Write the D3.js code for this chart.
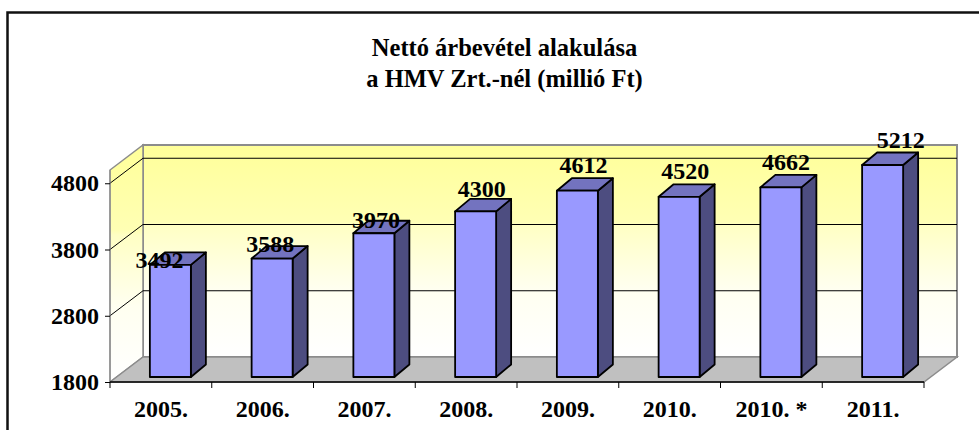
<!DOCTYPE html>
<html>
<head>
<meta charset="utf-8">
<script src="https://cdn.jsdelivr.net/npm/d3@7"></script>
<style>
  html, body { margin: 0; padding: 0; background: #fff; overflow: hidden; }
  svg { display: block; }
  text { font-family: "Liberation Serif", serif; font-weight: bold; fill: #000; }
</style>
</head>
<body>
<svg id="chart" width="979" height="430"></svg>
<script>
const titleLines = ['Nettó árbevétel alakulása', 'a HMV Zrt.-nél (millió Ft)'];
const years = ['2005.', '2006.', '2007.', '2008.', '2009.', '2010.', '2010. *', '2011.'];
const revenue = [3492, 3588, 3970, 4300, 4612, 4520, 4662, 5212];
const yTicks = [1800, 2800, 3800, 4800];

const svg = d3.select('#chart');

// Front plane of the 3D box
const x = d3.scaleBand().domain(years).range([110, 924]).paddingInner(0.597).paddingOuter(0.2985);
const xOuter = d3.scaleBand().domain(years).range([110, 924]);
// Axis tops out at 5000, the last bar is cut off there
const y = d3.scaleLinear().domain([1800, 5000]).range([382, 170]).clamp(true);

const depth = { x: 33, y: -25 };
const barDepth = { x: 15, y: -12.5 };
const barShift = { x: 9.5, y: -5 };

// hand moved data labels, as in the original sheet
const labelNudge = [[-11, 3], [-2, -7], [2, -5], [6, -14], [6, -18], [6, -18], [5, -17], [18, -17]];

const defs = svg.append('defs');
const grad = defs.append('linearGradient').attr('id', 'wall').attr('x1', 0).attr('y1', 0).attr('x2', 0).attr('y2', 1);
grad.append('stop').attr('offset', '0%').attr('stop-color', '#ffff99');
grad.append('stop').attr('offset', '36%').attr('stop-color', '#ffffb4');
grad.append('stop').attr('offset', '38%').attr('stop-color', '#ffffc4');
grad.append('stop').attr('offset', '68%').attr('stop-color', '#fffff0');
grad.append('stop').attr('offset', '100%').attr('stop-color', '#ffffff');

// Outer frame
svg.append('path')
  .attr('d', 'M7.5,436V12.5H985')
  .attr('fill', 'none').attr('stroke', '#111').attr('stroke-width', 2.5);

const x0 = 110, x1 = 924, yBottom = y(1800), yTop = y(5000);
const pts = (a) => a.map((p) => p.join(',')).join(' ');

// Back wall, side wall, floor
svg.append('polygon')
  .attr('points', pts([[x0 + depth.x, yTop + depth.y], [x1 + depth.x, yTop + depth.y], [x1 + depth.x, yBottom + depth.y], [x0 + depth.x, yBottom + depth.y]]))
  .attr('fill', 'url(#wall)').attr('stroke', '#8c8c8c').attr('stroke-width', 2);
svg.append('polygon')
  .attr('points', pts([[x0, yTop], [x0 + depth.x, yTop + depth.y], [x0 + depth.x, yBottom + depth.y], [x0, yBottom]]))
  .attr('fill', 'url(#wall)').attr('stroke', '#8c8c8c').attr('stroke-width', 1.5);
svg.append('polygon')
  .attr('points', pts([[x0, yBottom], [x0 + depth.x, yBottom + depth.y], [x1 + depth.x, yBottom + depth.y], [x1, yBottom]]))
  .attr('fill', '#c0c0c0').attr('stroke', '#8c8c8c').attr('stroke-width', 1.5);

// Gridlines run along the side wall and the back wall
svg.append('g').selectAll('polyline')
  .data(yTicks.slice(1))
  .join('polyline')
  .attr('points', (d) => pts([[x0, y(d)], [x0 + depth.x, y(d) + depth.y], [x1 + depth.x, y(d) + depth.y]]))
  .attr('fill', 'none').attr('stroke', '#000').attr('stroke-width', 1);

// Axis lines
const axisY = svg.append('g').attr('transform', `translate(${x0},0)`)
  .call(d3.axisLeft(y).tickValues(yTicks).tickFormat(d3.format('d')).tickSize(5).tickPadding(6));
const axisX = svg.append('g').attr('transform', `translate(0,${yBottom})`)
  .call(d3.axisBottom(xOuter).tickSize(0).tickPadding(18));
axisY.select('.domain').attr('stroke', '#8c8c8c').attr('stroke-width', 1).attr('d', `M0,${yTop}V${yBottom}`);
axisX.select('.domain').attr('stroke', '#000').attr('stroke-width', 1.5).attr('d', `M${x0},0H${x1}`);
axisY.attr('font-family', null).attr('font-size', null);
axisX.attr('font-family', null).attr('font-size', null);
axisY.selectAll('text').style('font-size', '24px');
axisX.selectAll('text').style('font-size', '24px');
axisX.selectAll('.tick line').remove();
svg.append('g').selectAll('line')
  .data(d3.range(years.length + 1))
  .join('line')
  .attr('x1', (i) => x0 + i * xOuter.step()).attr('x2', (i) => x0 + i * xOuter.step())
  .attr('y1', yBottom).attr('y2', yBottom + 6)
  .attr('stroke', '#000');

// Bars, each one front + side + top
const bars = svg.append('g').selectAll('g')
  .data(revenue)
  .join('g')
  .attr('stroke', '#000').attr('stroke-width', 1.8).attr('stroke-linejoin', 'round');

const barLeft = (d, i) => x(years[i]) + barShift.x;
const barRight = (d, i) => barLeft(d, i) + x.bandwidth();
const barTop = (d) => y(d) + barShift.y;
const barBase = yBottom + barShift.y;

bars.append('polygon').attr('fill', '#4d4d80')
  .attr('points', (d, i) => pts([[barRight(d, i), barTop(d)], [barRight(d, i) + barDepth.x, barTop(d) + barDepth.y], [barRight(d, i) + barDepth.x, barBase + barDepth.y], [barRight(d, i), barBase]]));
bars.append('polygon').attr('fill', '#7373bf')
  .attr('points', (d, i) => pts([[barLeft(d, i), barTop(d)], [barLeft(d, i) + barDepth.x, barTop(d) + barDepth.y], [barRight(d, i) + barDepth.x, barTop(d) + barDepth.y], [barRight(d, i), barTop(d)]]));
bars.append('rect').attr('fill', '#9999ff')
  .attr('x', barLeft).attr('y', barTop).attr('width', x.bandwidth()).attr('height', (d) => barBase - barTop(d));

// Data labels
svg.append('g').selectAll('text')
  .data(revenue)
  .join('text')
  .attr('x', (d, i) => barLeft(d, i) + x.bandwidth() / 2 + labelNudge[i][0])
  .attr('y', (d, i) => barTop(d) + labelNudge[i][1])
  .attr('text-anchor', 'middle')
  .style('font-size', '24px')
  .text((d) => d);

// Title
svg.append('g').selectAll('text')
  .data(titleLines)
  .join('text')
  .attr('x', 504.5)
  .attr('y', (d, i) => 56 + i * 31)
  .attr('text-anchor', 'middle')
  .style('font-size', '24.5px')
  .text((d) => d);
</script>
</body>
</html>
